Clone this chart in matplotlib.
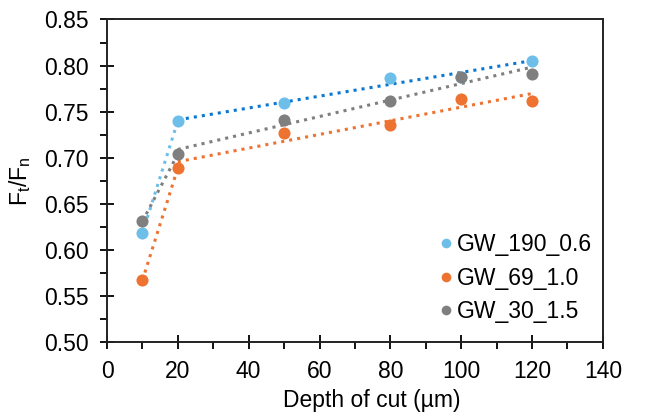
import numpy as np
import matplotlib
matplotlib.use('Agg')
import matplotlib.pyplot as plt
from matplotlib.ticker import MultipleLocator

plt.rcParams['font.family'] = ['Liberation Sans', 'DejaVu Sans']

depth = [10, 20, 50, 80, 100, 120]
gw_190_06 = [0.618, 0.740, 0.759, 0.787, 0.788, 0.805]
gw_69_10 = [0.567, 0.689, 0.727, 0.736, 0.764, 0.762]
gw_30_15 = [0.631, 0.704, 0.741, 0.762, 0.788, 0.791]

series = [
    ('GW_190_0.6', gw_190_06, '#6DBFEA', '#0A78D2'),
    ('GW_69_1.0', gw_69_10, '#EE7230', '#EE7230'),
    ('GW_30_1.5', gw_30_15, '#7F7F7F', '#7F7F7F'),
]

fig = plt.figure(figsize=(6.51, 4.19), dpi=100)
ax = fig.add_axes([0.1644, 0.1838, 0.7616, 0.7697])

x = np.array(depth, dtype=float)
for name, vals, c, tc in series:
    y = np.array(vals)
    # steep initial segment joining the first two depths
    ax.plot(x[:2], y[:2], ':', color=c, lw=2.2, zorder=2)
    # linear trend over the remaining depths
    k, b = np.polyfit(x[1:], y[1:], 1)
    xs = np.array([x[1], x[-1]])
    ax.plot(xs, k * xs + b, ':', color=tc, lw=2.2, zorder=2)

for name, vals, c, tc in series:
    ax.plot(depth, vals, 'o', color=c, ms=8.7, mec='none', label=name, zorder=3)

ax.set_xlim(0, 140)
ax.set_ylim(0.50, 0.85)
ax.xaxis.set_major_locator(MultipleLocator(20))
ax.xaxis.set_minor_locator(MultipleLocator(10))
ax.yaxis.set_major_locator(MultipleLocator(0.05))
ax.yaxis.set_minor_locator(MultipleLocator(0.025))
ax.yaxis.set_major_formatter(plt.FormatStrFormatter('%.2f'))
ax.tick_params(which='major', direction='inout', length=10, width=1.3, labelsize=16.5, pad=8)
ax.tick_params(which='minor', direction='out', length=5, width=1.3)
for s in ax.spines.values():
    s.set_linewidth(1.4)
    s.set_color('#222222')

ax.set_xlabel('Depth of cut (µm)', fontsize=16.5)
ax.xaxis.set_label_coords(0.534, -0.145)
ax.set_ylabel('F$_\\mathregular{t}$/F$_\\mathregular{n}$', fontsize=16.5, labelpad=8)

ax.legend(loc='center left', bbox_to_anchor=(0.64, 0.198), frameon=False,
          fontsize=16.5, handletextpad=0.0, labelspacing=0.45, borderpad=0,
          handlelength=0.9, markerscale=0.8)

fig.savefig('out.png', dpi=100)
